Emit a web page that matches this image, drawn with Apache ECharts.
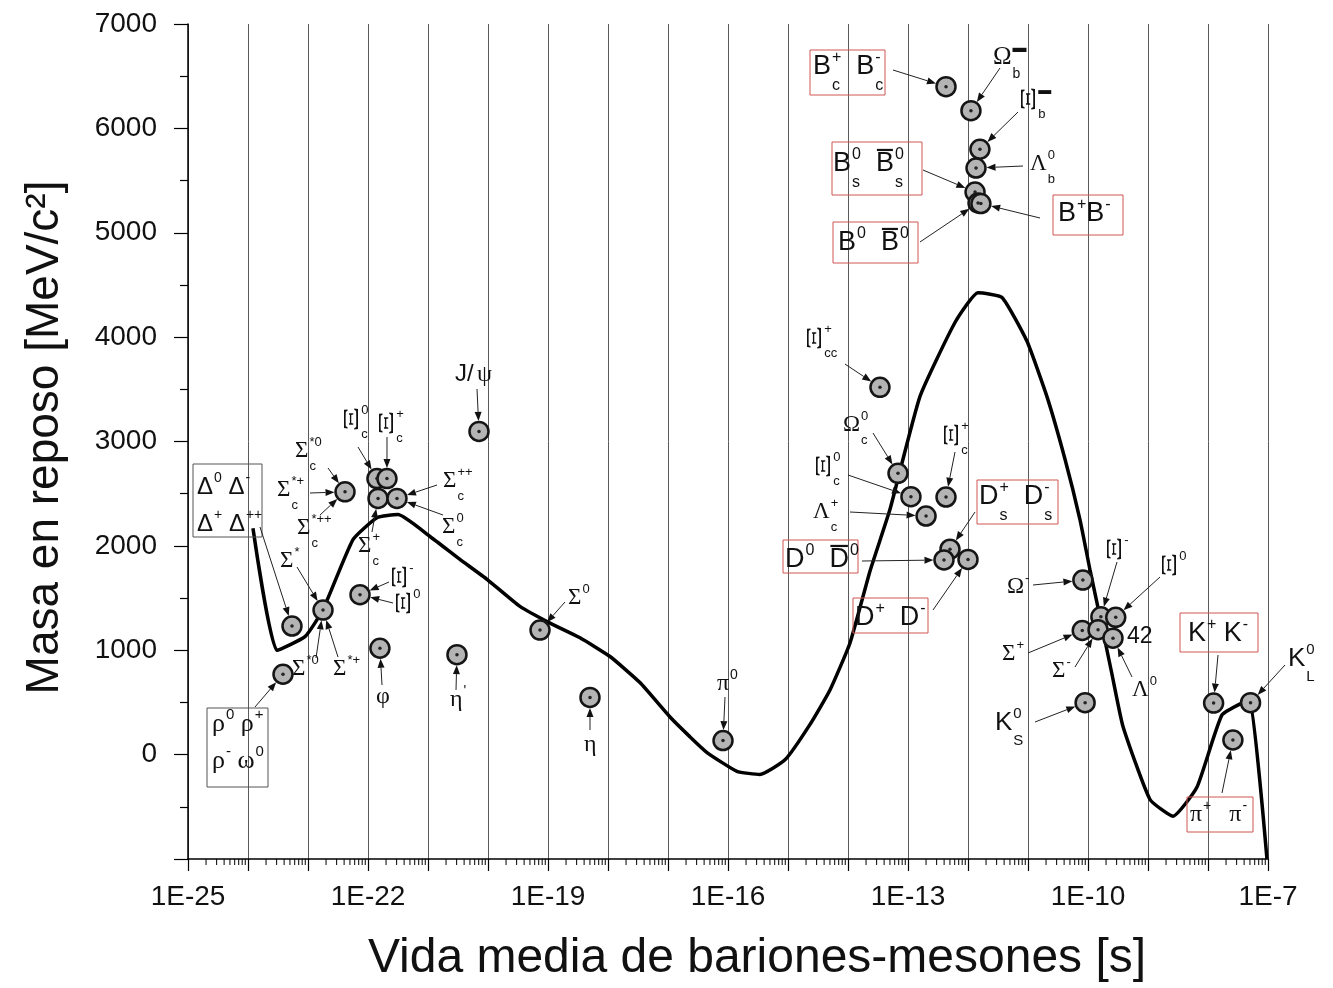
<!DOCTYPE html>
<html><head><meta charset="utf-8">
<script src="https://cdn.jsdelivr.net/npm/echarts@6/dist/echarts.min.js"></script>
<style>html,body{margin:0;padding:0;background:#fff}#c{width:1333px;height:988px}</style>
</head><body><div id="c"></div>
<script>
// ---------------- DATA ----------------
// Thick black curve: lifetime [s] and rest mass [MeV/c^2]
const curveLifetime = [1.21e-24, 3.04e-24, 8.91e-24, 1.78e-23, 5.62e-23, 1.41e-22, 3.16e-22, 1.08e-21, 3.41e-21, 9.62e-21,
  3.41e-20, 1.08e-19, 3.41e-19, 1.08e-18, 3.41e-18, 1.08e-17, 2.33e-17, 4.47e-17, 1.41e-16, 3.41e-16,
  8.91e-16, 2.33e-15, 5.01e-15, 1.08e-14, 2.33e-14, 5.01e-14, 1.58e-13, 6.07e-13, 1.47e-12, 3.69e-12,
  9.62e-12, 2.07e-11, 4.14e-11, 7.36e-11, 1.08e-10, 1.71e-10, 2.51e-10, 3.83e-10, 1.08e-9, 2.61e-9,
  6.56e-9, 1.71e-8, 4.14e-8, 5.01e-8, 9.62e-8];
const curveMass = [2170, 1000, 1130, 1390, 2060, 2270, 2300, 2090, 1870, 1680,
  1420, 1260, 1120, 940, 690, 360, 170, 20, -160, -190,
  -50, 290, 620, 1070, 1760, 2350, 3430, 4140, 4425, 4380,
  3960, 3430, 2830, 2250, 1770, 1230, 770, 270, -430, -590,
  -310, 380, 510, 525, -1000];

// Particles (circles)
const particleNames = ['rho','Delta','Sigma1385','Sigmac2520','Xic2645a','Xic2645b','Sigmac_a','Sigmac_b','Xi1530','phi',
  'etap','Jpsi','Sigma0','eta','pi0','Xicc','Omegac','Xic0','Lambdac','Xicp',
  'Ds','D0','Dp','Bc','Omegab','Xib','Lambdab','Bs','B0','Bp',
  'Omega','Xim','Xi0','Sigmap','Sigmam','Lambda','KS','Kpm','KL','pipm'];
const particleLifetime = [3.83e-24, 5.41e-24, 1.78e-23, 4.14e-23, 1.41e-22, 2.07e-22, 1.47e-22, 3.04e-22, 7.36e-23, 1.58e-22,
  3.04e-21, 7.08e-21, 7.36e-20, 5.01e-19, 8.26e-17, 3.41e-14, 6.81e-14, 1.12e-13, 2.0e-13, 4.3e-13,
  5.01e-13, 3.98e-13, 1.0e-12, 4.3e-13, 1.12e-12, 1.58e-12, 1.36e-12, 1.31e-12, 1.47e-12, 1.64e-12,
  8.21e-11, 1.64e-10, 2.9e-10, 8.02e-11, 1.47e-10, 2.61e-10, 8.95e-11, 1.24e-8, 5.12e-8, 2.6e-8];
const particleMass = [770, 1232, 1385, 2518, 2645, 2645, 2455, 2455, 1532, 1019,
  958, 3097, 1193, 548, 135, 3519, 2695, 2471, 2286, 2468,
  1968, 1865, 1870, 6400, 6170, 5800, 5620, 5390, 5285, 5280,
  1672, 1321, 1315, 1189, 1197, 1116, 498, 494, 498, 140];

// Tick labels
const xLabelExponents = [-25, -22, -19, -16, -13, -10, -7];
const yTickLabels = ['0','1000','2000','3000','4000','5000','6000','7000'];

// ---------------- LAYOUT / STYLE ----------------
const SERIF = '"Liberation Serif", "Times New Roman", serif';
const SANS = '"Liberation Sans", Arial, sans-serif';
const RED = '#d25555';
const GRAY = '#555';

const boxes = [
  [193,464,262,537,GRAY],[207,708,268,787,GRAY],
  [977,480,1058,524,RED],[783,540,858,573,RED],[853,598,928,633,RED],
  [810,50,885,95,RED],[832,142,922,195,RED],[833,222,918,263,RED],[1053,195,1123,235,RED],
  [1180,613,1258,652,RED],[1187,797,1253,832,RED]
];
const labels = [
  {t:'Δ^{0} Δ^{-}', x:197, y:487, s:24, f:'s'},
  {t:'Δ^{+} Δ^{++}', x:197, y:524, s:24, f:'s'},
  {t:'ρ^{0} ρ^{+}', x:212, y:724, s:26},
  {t:'ρ^{-} ω^{0}', x:212, y:761, s:26},
  {t:'Σ^{*}', x:280, y:561, s:23},
  {t:'Σ^{*0}', x:292, y:669, s:23},
  {t:'Σ^{*+}', x:333, y:669, s:23},
  {t:'Σ^{*0}_{c}', x:295, y:451, s:23},
  {t:'Σ^{*+}_{c}', x:277, y:490, s:23},
  {t:'Σ^{*++}_{c}', x:297, y:528, s:23},
  {t:'Ξ^{0}_{c}', x:345, y:419, s:23},
  {t:'Ξ^{+}_{c}', x:380, y:423, s:23},
  {t:'Σ^{++}_{c}', x:443, y:481, s:23},
  {t:'Σ^{0}_{c}', x:442, y:527, s:23},
  {t:'Σ^{+}_{c}', x:358, y:546, s:23},
  {t:'Ξ^{-}', x:393, y:577, s:23},
  {t:'Ξ^{0}', x:397, y:603, s:23},
  {t:'φ', x:376, y:697, s:24},
  {t:"η^{'}", x:450, y:700, s:24},
  {t:'J/', x:455, y:374, s:24, f:'s'},
  {t:'ψ', x:477, y:375, s:24},
  {t:'Σ^{0}', x:568, y:598, s:23},
  {t:'η', x:584, y:745, s:24},
  {t:'π^{0}', x:717, y:684, s:24},
  {t:'Ξ^{+}_{cc}', x:808, y:338, s:23},
  {t:'Ω^{0}_{c}', x:843, y:425, s:23},
  {t:'Ξ^{0}_{c}', x:817, y:466, s:23},
  {t:'Λ^{+}_{c}', x:813, y:512, s:23},
  {t:'Ξ^{+}_{c}', x:945, y:435, s:23},
  {t:'D^{+}_{s}  D^{-}_{s}', x:979, y:497, s:27, f:'s'},
  {t:'D^{0}  !D^{0}', x:785, y:560, s:27, f:'s'},
  {t:'D^{+}  D^{-}', x:855, y:618, s:27, f:'s'},
  {t:'B^{+}_{c}  B^{-}_{c}', x:813, y:67, s:27, f:'s'},
  {t:'Ω^{▬}_{b}', x:993, y:57, s:25},
  {t:'Ξ^{▬}_{b}', x:1022, y:99, s:23},
  {t:'Λ^{0}_{b}', x:1030, y:164, s:23},
  {t:'B^{0}_{s}  !B^{0}_{s}', x:833, y:164, s:27, f:'s'},
  {t:'B^{0}  !B^{0}', x:838, y:243, s:27, f:'s'},
  {t:'B^{+}B^{-}', x:1058, y:214, s:27, f:'s'},
  {t:'Ω^{-}', x:1007, y:587, s:23},
  {t:'Ξ^{-}', x:1108, y:549, s:23},
  {t:'Ξ^{0}', x:1163, y:565, s:23},
  {t:'Σ^{+}', x:1002, y:654, s:23},
  {t:'Σ^{-}', x:1052, y:671, s:23},
  {t:'42', x:1127, y:637, s:23, f:'s'},
  {t:'Λ^{0}', x:1132, y:690, s:23},
  {t:'K^{0}_{S}', x:995, y:723, s:26, f:'s'},
  {t:'K^{+} K^{-}', x:1188, y:634, s:27, f:'s'},
  {t:'K^{0}_{L}', x:1288, y:659, s:26, f:'s'},
  {t:'π^{+}   π^{-}', x:1190, y:815, s:24}
];
const arrows = [
  [260,527,'Delta'],[255,707,'rho'],
  [297,567,'Sigma1385'],[316,658,'Sigma1385'],[338,657,'Sigma1385'],
  [328,468,'Sigmac2520'],[310,493,'Sigmac2520'],[320,515,'Sigmac2520'],
  [358,447,'Xic2645a'],[387,437,'Xic2645b'],
  [437,485,'Sigmac_b'],[443,515,'Sigmac_b'],[372,532,'Sigmac_a'],
  [389,582,'Xi1530'],[393,603,'Xi1530'],
  [382,685,'phi'],[456,690,'etap'],[477,389,'Jpsi'],[565,602,'Sigma0'],[590,730,'eta'],[725,697,'pi0'],
  [845,364,'Xicc'],[873,433,'Omegac'],[848,475,'Xic0'],[850,512,'Lambdac'],[955,452,'Xicp'],
  [975,512,'Ds'],[862,561,'D0'],[933,610,'Dp'],
  [893,70,'Bc'],[1000,68,'Omegab'],[1018,112,'Xib'],[1023,166,'Lambdab'],[923,170,'Bs'],[920,242,'B0'],[1040,218,'Bp'],
  [1033,585,'Omega'],[1117,562,'Xim'],[1160,577,'Xi0'],[1028,653,'Sigmap'],[1075,667,'Sigmam'],[1132,677,'Lambda'],
  [1035,722,'KS'],[1218,655,'Kpm'],[1285,665,'KL'],[1222,793,'pipm']
];

// ---------------- CHART ----------------
const chart = echarts.init(document.getElementById('c'), null, {renderer:'canvas', width:1333, height:988});
const lg = v => Math.log10(v);
const curveData = curveLifetime.map((t,i) => [lg(t), curveMass[i]]);
const pointData = particleLifetime.map((t,i) => [lg(t), particleMass[i]]);
const minorTicks = [];
for (let e = -25; e < -7; e++) for (let k = 2; k <= 9; k++) minorTicks.push([e + Math.log10(k), -1000]);

chart.setOption({
  animation:false,
  backgroundColor:'#fff',
  grid:{left:188, right:65, top:24, bottom:128},
  xAxis:{
    type:'value', min:-25, max:-7, interval:1,
    name:'Vida media de bariones-mesones [s]', nameLocation:'middle', nameGap:76,
    nameTextStyle:{fontFamily:SANS, fontSize:48, color:'#111', padding:[0,0,0,58]},
    axisLine:{show:true, onZero:false, lineStyle:{color:'#000', width:1.5}},
    axisTick:{show:true, length:12, lineStyle:{color:'#000', width:1.2}},
    axisLabel:{margin:24, fontFamily:SANS, fontSize:28, color:'#111',
      formatter: v => xLabelExponents.includes(Math.round(v)) ? '1E' + Math.round(v) : ''},
    splitLine:{show:true, lineStyle:{color:'#5a5a5a', width:1}}
  },
  yAxis:{
    type:'value', min:-1000, max:7000, interval:1000,
    name:'Masa en reposo [MeV/c²]', nameLocation:'middle', nameGap:120,
    nameTextStyle:{fontFamily:SANS, fontSize:46, color:'#111', padding:[0,0,0,8]},
    axisLine:{show:true, lineStyle:{color:'#000', width:1.5}},
    axisTick:{show:true, length:14, lineStyle:{color:'#000', width:1.2}},
    minorTick:{show:true, splitNumber:2, length:8, lineStyle:{color:'#000', width:1.2}},
    axisLabel:{margin:31, fontFamily:SANS, fontSize:28, color:'#111',
      formatter: v => { const i = yTickLabels.indexOf(String(v)); return i >= 0 ? yTickLabels[i] : ''; }},
    splitLine:{show:false}
  },
  series:[
    {type:'custom', data:minorTicks, clip:false, silent:true, z:1,
      renderItem:(params, api) => {
        const p = api.coord([api.value(0), api.value(1)]);
        return {type:'line', shape:{x1:p[0], y1:p[1], x2:p[0], y2:p[1] + 6}, style:{stroke:'#000', lineWidth:1}};
      }},
    {type:'line', data:curveData, showSymbol:false, smooth:0.15, silent:true, z:3,
      lineStyle:{color:'#000', width:3.5}},
    {type:'scatter', data:pointData, symbolSize:19, silent:true, z:4,
      itemStyle:{color:'#b4b4b4', borderColor:'#151515', borderWidth:2.5, opacity:1}},
    {type:'scatter', data:pointData, symbolSize:3.5, silent:true, z:5, itemStyle:{color:'#222', opacity:1}}
  ]
});

// ---------------- ANNOTATIONS ----------------
const els = [];
const mctx = document.createElement('canvas').getContext('2d');
function tw(text, font){ mctx.font = font; return mctx.measureText(text).width; }
function addText(x, y, text, font, rot, sy){
  els.push({type:'text', x:x, y:y, rotation:rot || 0, scaleY: sy || 1, z:60, silent:true,
    style:{text:text, font:font, fill:'#111',
      align: rot ? 'center' : 'left', verticalAlign:'middle',
      textAlign: rot ? 'center' : 'left', textVerticalAlign:'middle'}});
}
function parse(str){
  const toks = []; let i = 0;
  while (i < str.length){
    const ch = str[i];
    if (ch === '^' || ch === '_'){
      let content;
      if (str[i+1] === '{'){ const j = str.indexOf('}', i+2); content = str.slice(i+2, j); i = j + 1; }
      else { content = str[i+1]; i += 2; }
      toks.push({type: ch === '^' ? 'sup' : 'sub', text:content});
    } else if (ch === '!'){ toks.push({type:'base', text:str[i+1], bar:true}); i += 2; }
    else { toks.push({type:'base', text:ch}); i++; }
  }
  return toks;
}
function drawLabel(L){
  const S = L.s;
  const bfont = S + 'px ' + (L.f === 's' ? SANS : SERIF);
  const ss = Math.round(S * 0.58);
  const sfont = ss + 'px ' + SANS;
  let x = L.x; const y = L.y;
  let sStart = null, sW = 0;
  parse(L.t).forEach(tk => {
    if (tk.type === 'base'){
      if (sStart !== null){ x = sStart + sW + 1; sStart = null; sW = 0; }
      if (tk.text === 'Ξ'){
        const w = S * 0.66;
        addText(x + w/2, y, 'Ξ', Math.round(S * 1.7) + 'px ' + SERIF, Math.PI/2, 0.52);
        x += w;
      } else {
        const w = tw(tk.text, bfont);
        addText(x, y, tk.text, bfont, 0);
        if (tk.bar){
          els.push({type:'line', z:60, silent:true, shape:{x1:x + 1, y1:y - S*0.52, x2:x + w - 1, y2:y - S*0.52},
            style:{stroke:'#111', lineWidth:2.2}});
        }
        x += w;
      }
    } else {
      if (sStart === null){ sStart = x; sW = 0; }
      const w = tw(tk.text, sfont);
      const yy = tk.type === 'sup' ? y - S*0.36 : y + S*0.68;
      addText(sStart + 1, yy, tk.text, sfont, 0);
      sW = Math.max(sW, w);
    }
  });
}
boxes.forEach(b => els.push({type:'rect', z:55, silent:true,
  shape:{x:b[0], y:b[1], width:b[2]-b[0], height:b[3]-b[1]}, style:{fill:'none', stroke:b[4], lineWidth:1}}));
labels.forEach(drawLabel);
arrows.forEach(a => {
  const idx = particleNames.indexOf(a[2]);
  const c = chart.convertToPixel({seriesIndex:2}, pointData[idx]);
  const dx = c[0] - a[0], dy = c[1] - a[1], len = Math.hypot(dx, dy);
  const ux = dx/len, uy = dy/len;
  const tx = c[0] - ux*10.5, ty = c[1] - uy*10.5;
  const hl = 9, hw = 3.5;
  const bx = tx - ux*hl, by = ty - uy*hl;
  els.push({type:'line', z:58, silent:true, shape:{x1:a[0], y1:a[1], x2:bx, y2:by}, style:{stroke:'#222', lineWidth:1}});
  els.push({type:'polygon', z:58, silent:true,
    shape:{points:[[tx,ty],[bx - uy*hw, by + ux*hw],[bx + uy*hw, by - ux*hw]]}, style:{fill:'#111'}});
});
chart.setOption({graphic:{elements:els}});
</script>
</body></html>
